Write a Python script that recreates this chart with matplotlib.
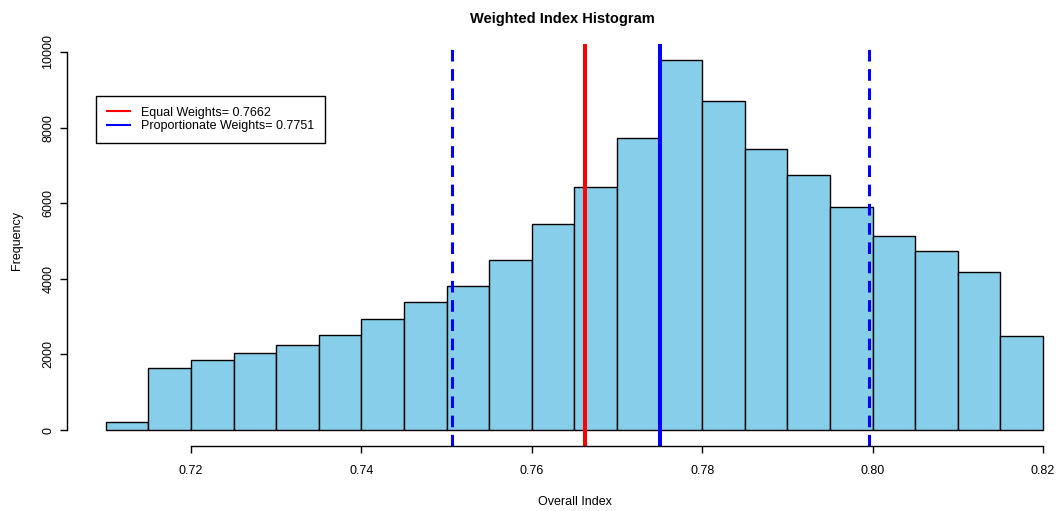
import matplotlib
matplotlib.use("Agg")
import matplotlib.pyplot as plt
from matplotlib.lines import Line2D

plt.rcParams['font.family'] = ['Liberation Sans', 'DejaVu Sans']

# dane histogramu
bin_edges = [0.710, 0.715, 0.720, 0.725, 0.730, 0.735, 0.740, 0.745, 0.750, 0.755, 0.760, 0.765,
             0.770, 0.775, 0.780, 0.785, 0.790, 0.795, 0.800, 0.805, 0.810, 0.815, 0.820]
counts = [200, 1635, 1845, 2025, 2255, 2525, 2937, 3390, 3805, 4490, 5455, 6420,
          7735, 9790, 8704, 7426, 6738, 5888, 5132, 4735, 4175, 2495]

equal_w = 0.7662
prop_w = 0.7751
interval = [0.7506, 0.7996]

x_ticks = [0.72, 0.74, 0.76, 0.78, 0.80, 0.82]
x_tick_labels = ["0.72", "0.74", "0.76", "0.78", "0.80", "0.82"]
y_ticks = [0, 2000, 4000, 6000, 8000, 10000]

W, H = 1058, 511
fig = plt.figure(figsize=(W / 100, H / 100), dpi=100)
ax = fig.add_axes([67 / W, 65 / H, (W - 67) / W, 402 / H])

widths = [bin_edges[i + 1] - bin_edges[i] for i in range(len(counts))]
ax.bar(bin_edges[:-1], counts, width=widths, align='edge',
       color='#87CEEB', edgecolor='black', linewidth=1.0)

ax.axvline(equal_w, color='red', linewidth=2.9)
ax.axvline(prop_w, color='blue', linewidth=2.9)
for v in interval:
    ax.axvline(v, color='blue', linewidth=2.2, dashes=(3.8, 2.5))

ax.set_xlim(0.705446, 0.821761)
ax.set_ylim(-423, 10211)

# osie w stylu R
for s in ['top', 'right']:
    ax.spines[s].set_visible(False)
ax.spines['left'].set_bounds(0, 10000)
ax.spines['bottom'].set_bounds(0.72, 0.82)
ax.spines['left'].set_linewidth(1.0)
ax.spines['bottom'].set_linewidth(1.0)

ax.set_xticks(x_ticks)
ax.set_xticklabels(x_tick_labels)
ax.set_yticks(y_ticks)
ax.set_yticklabels([str(v) for v in y_ticks], rotation=90, va='center')
ax.tick_params(axis='both', direction='out', length=5, width=1.0, labelsize=9)
ax.tick_params(axis='x', pad=9)
ax.tick_params(axis='y', pad=4)

ax.set_title("Weighted Index Histogram", fontsize=10.5, fontweight='bold', pad=15)
fig.text(575 / W, 1 - 502 / H, "Overall Index", ha='center', va='center', fontsize=9)
fig.text(17 / W, 1 - 241 / H, "Frequency", ha='center', va='center', rotation=90, fontsize=9)

handles = [Line2D([], [], color='red', linewidth=1.5),
           Line2D([], [], color='blue', linewidth=1.5)]
labels = [f"Equal Weights= {equal_w}", f"Proportionate Weights= {prop_w}"]
leg = ax.legend(handles, labels, loc='upper left',
                bbox_to_anchor=(96 / W, 1 - 96 / H), bbox_transform=fig.transFigure,
                borderaxespad=0, fontsize=9, frameon=True, fancybox=False,
                edgecolor='black', framealpha=1, handlelength=1.85, handletextpad=0.9,
                labelspacing=0.12, borderpad=0.85)
leg.get_frame().set_linewidth(1.0)

fig.savefig("out.png", dpi=100)
